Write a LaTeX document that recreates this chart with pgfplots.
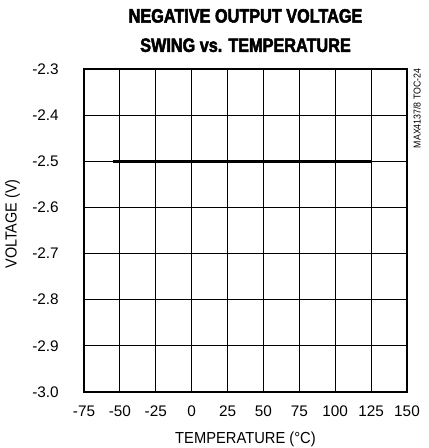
\documentclass[border=0pt]{standalone}
\usepackage{pgfplots}
\pgfplotsset{compat=1.18}
\usepackage{fontspec}
\usepackage{graphicx}
\setmainfont{Liberation Sans}[FakeStretch=0.92]
\newfontfamily\plainfont{Liberation Sans}
\newfontfamily\titlefont{Liberation Sans Bold}[FakeStretch=0.84, FakeBold=2.5]
\begin{document}
\begin{tikzpicture}
\path (-63pt,-42pt) rectangle (258pt,294pt);
\begin{axis}[
  scale only axis, width=242.25pt, height=242.25pt,
  xmin=-75, xmax=150, ymin=-3, ymax=-2.3,
  xtick={-75,-50,-25,0,25,50,75,100,125,150},
  ytick={-3,-2.9,-2.8,-2.7,-2.6,-2.5,-2.4,-2.3},
  grid=major,
  major grid style={black, line width=0.7pt},
  major tick length=0pt,
  axis line style={line width=2.2pt},
  /pgf/number format/assume math mode=true,
  tick label style={font=\plainfont\fontsize{11.5}{13}\selectfont},
  xticklabel style={anchor=center, inner sep=0pt, yshift=-14.6pt},
  yticklabel style={anchor=east, inner sep=0pt, xshift=-18.75pt, /pgf/number format/fixed, /pgf/number format/fixed zerofill, /pgf/number format/precision=1},
  xlabel={TEMPERATURE (°C)},
  label style={font=\fontsize{12}{14}\selectfont},
  xlabel style={at={(axis description cs:0.5,-0.146)}, anchor=center, inner sep=0pt},
  title={NEGATIVE OUTPUT VOLTAGE\\[4pt]SWING vs. TEMPERATURE},
  title style={at={(axis description cs:0.5,1)}, anchor=south, align=center, inner sep=0pt, yshift=6.5pt,
    font=\titlefont\fontsize{14.5}{18}\selectfont},
]
\addplot[black, line width=2.2pt] coordinates {(-55,-2.5) (-40,-2.5) (-25,-2.5) (0,-2.5) (25,-2.5) (50,-2.5) (75,-2.5) (100,-2.5) (125,-2.5)};
\end{axis}
\node[anchor=center, inner sep=0pt, font=\plainfont\fontsize{12}{14}\selectfont] at (-53.6pt,126pt) {\rotatebox{90}{\scalebox{0.9}[1]{VOLTAGE (V)}}};
\node[anchor=north west, inner sep=0pt, font=\plainfont\fontsize{7.5}{8}\selectfont] at ([xshift=4.5pt,yshift=0.5pt]current axis.north east) {\rotatebox{90}{\scalebox{0.88}[1]{MAX4137/8 TOC-24}}};
\end{tikzpicture}
\end{document}
